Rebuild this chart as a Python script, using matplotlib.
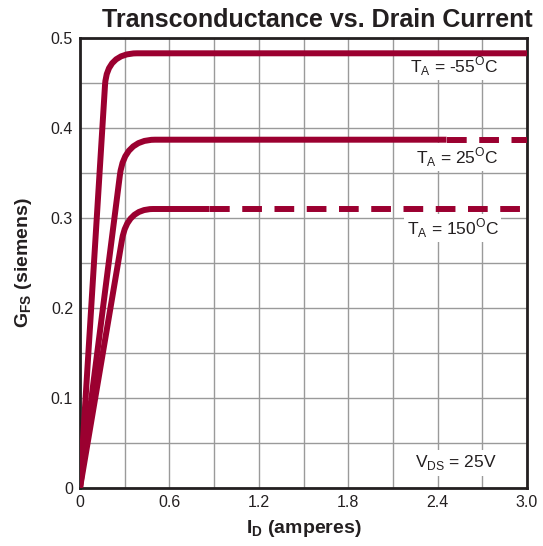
#!/usr/bin/env python3

## transconductance vs drain current -- three ambient temperatures

import numpy as np
from matplotlib import pyplot as plt
from matplotlib.path import Path
from matplotlib.patches import PathPatch

plt.rcParams['font.family'] = ['Liberation Sans', 'DejaVu Sans']
plt.rcParams['mathtext.fontset'] = 'custom'
plt.rcParams['mathtext.rm'] = 'Liberation Sans'
plt.rcParams['mathtext.bf'] = 'Liberation Sans:bold'

red = '#9b0030'
ink = '#231f20'

## curves (I_D in A, G_FS in S)
# order: T_A = -55 C, 25 C, 150 C
knee_id = [0.168, 0.268, 0.282]      # end of the linear rise
knee_gfs = [0.448, 0.348, 0.276]
flat_id = [0.383, 0.503, 0.490]      # where the curve becomes flat
flat_gfs = [0.483, 0.387, 0.310]     # plateau value
solid_end = [3.0, 2.46, 0.87]        # dashed from here to 3.0 A
id_max = 3.0

labels = [r'T$_\mathregular{A}$ = -55$^\mathregular{O}$C',
          r'T$_\mathregular{A}$ = 25$^\mathregular{O}$C',
          r'T$_\mathregular{A}$ = 150$^\mathregular{O}$C']
label_y = [0.469, 0.368, 0.289]

xticks = [0, 0.6, 1.2, 1.8, 2.4, 3.0]
xtick_labels = ['0', '0.6', '1.2', '1.8', '2.4', '3.0']
yticks = [0, 0.1, 0.2, 0.3, 0.4, 0.5]
ytick_labels = ['0', '0.1', '0.2', '0.3', '0.4', '0.5']

fig = plt.figure(figsize=(5.43, 5.46), dpi=100)
ax = fig.add_axes([80/543, 58/546, 447/543, 450/546])

lw = 4.3
dash = (0, (3.3, 2.1))
for kx, ky, fx, fy, se in zip(knee_id, knee_gfs, flat_id, flat_gfs, solid_end):
    # rounded corner: control point where the rise meets the plateau
    cx = kx * fy / ky
    verts = [(0, 0), (kx, ky), (cx, fy), (fx, fy), (se, fy)]
    codes = [Path.MOVETO, Path.LINETO, Path.CURVE3, Path.CURVE3, Path.LINETO]
    ax.add_patch(PathPatch(Path(verts, codes), facecolor='none', edgecolor=red, lw=lw,
                           capstyle='butt', joinstyle='round', zorder=3))
    if se < id_max:
        ax.plot([se, id_max], [fy, fy], color=red, lw=lw, linestyle=dash,
                dash_capstyle='butt', zorder=3)

for lab, yy in zip(labels, label_y):
    ax.text(2.81, yy, lab, ha='right', va='center', fontsize=12.5, color=ink,
            bbox=dict(facecolor='white', edgecolor='none', pad=1.5), zorder=2)
ax.text(2.52, 0.028, r'V$_\mathregular{DS}$ = 25V', ha='center', va='center', fontsize=12.5,
        color=ink, bbox=dict(facecolor='white', edgecolor='none', pad=2.5), zorder=2)

ax.set_xlim(0, 3.0)
ax.set_ylim(0, 0.5)
ax.set_xticks(np.arange(0, 3.01, 0.3), minor=True)
ax.set_yticks(np.arange(0, 0.501, 0.05), minor=True)
ax.set_xticks(xticks)
ax.set_xticklabels(xtick_labels)
ax.set_yticks(yticks)
ax.set_yticklabels(ytick_labels)
ax.grid(which='both', color='#9a9a9a', lw=1.0, zorder=0)
ax.set_axisbelow(True)
ax.tick_params(which='both', length=0, labelsize=11.5, colors=ink, pad=5)
for s in ax.spines.values():
    s.set_linewidth(2.0)
    s.set_color(ink)

ax.set_title('Transconductance vs. Drain Current', fontsize=18, fontweight='bold',
             color=ink, x=0.531, pad=8)
ax.set_xlabel(r'I$_\mathbf{D}$ (amperes)', fontsize=14, fontweight='bold', color=ink, labelpad=6)
ax.set_ylabel(r'G$_\mathbf{FS}$ (siemens)', fontsize=14, fontweight='bold', color=ink, labelpad=12)

fig.savefig('out.png', dpi=100)
